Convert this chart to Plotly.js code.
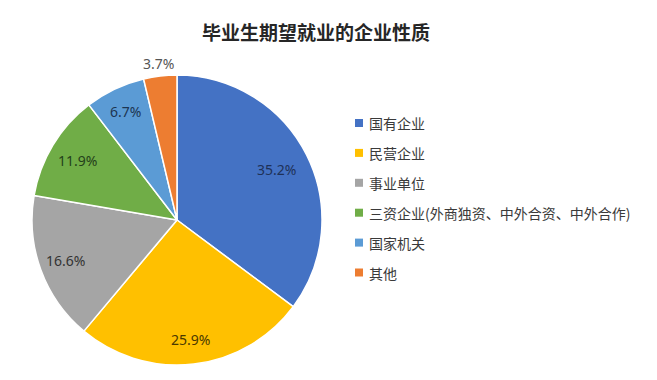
<!DOCTYPE html>
<html>
<head>
<meta charset="utf-8">
<script src="https://cdn.plot.ly/plotly-3.0.1.min.js"></script>
<style>html,body{margin:0;padding:0;background:#fff;}#chart{width:657px;height:380px;}</style>
</head>
<body>
<div id="chart"></div>
<script>
const categories = ['国有企业', '民营企业', '事业单位', '三资企业(外商独资、中外合资、中外合作)', '国家机关', '其他'];
const shares = [35.2, 25.9, 16.6, 11.9, 6.7, 3.7];
const sliceColors = ['#4472C4', '#FFC000', '#A5A5A5', '#70AD47', '#5B9BD5', '#ED7D31'];
const labelColors = ['#1e3158', '#4a3800', '#333333', '#24401a', '#1c3552', '#555555'];
const titleText = '毕业生期望就业的企业性质';

const W = 657, H = 380;
const CJK = '"Noto Sans CJK SC", "Noto Sans", sans-serif';
// pie geometry in pixels (center and radius) -> domain
const CX = 177, CY = 220, R = 145;
// radial placement of each data label, as a fraction of the radius
const labelRadius = [0.77, 0.83, 0.82, 0.80, 0.83, 1.09];

const trace = {
  type: 'pie',
  labels: categories,
  values: shares,
  sort: false,
  direction: 'clockwise',
  rotation: 0,
  marker: { colors: sliceColors, line: { color: '#ffffff', width: 1.5 } },
  textinfo: 'none',
  textposition: 'none',
  domain: { x: [(CX - R) / W, (CX + R) / W], y: [(H - CY - R) / H, (H - CY + R) / H] },
  showlegend: false,
  hoverinfo: 'label+percent'
};

const shapes = [];
const annotations = [];

// data labels at the middle angle of each slice (clockwise from 12 o'clock)
const total = shares.reduce((a, b) => a + b, 0);
let cum = 0;
shares.forEach((v, i) => {
  const theta = (cum + v / 2) / total * 2 * Math.PI;
  cum += v;
  const px = CX + labelRadius[i] * R * Math.sin(theta);
  const py = CY - labelRadius[i] * R * Math.cos(theta);
  annotations.push({
    xref: 'paper', yref: 'paper', x: px / W, y: (H - py) / H,
    xanchor: 'center', yanchor: 'middle', showarrow: false,
    text: v.toFixed(1) + '%',
    font: { family: '"Noto Sans", sans-serif', size: 14, color: labelColors[i] }
  });
});

// legend (squares + labels), one row per category
categories.forEach((c, i) => {
  const yc = 123 + i * 29.9;
  shapes.push({
    type: 'rect', xref: 'paper', yref: 'paper',
    x0: 355 / W, x1: 363 / W, y0: (H - yc - 4) / H, y1: (H - yc + 4) / H,
    fillcolor: sliceColors[i], line: { width: 0 }
  });
  annotations.push({
    xref: 'paper', yref: 'paper', x: 367 / W, y: (H - yc) / H,
    xanchor: 'left', yanchor: 'middle', showarrow: false,
    text: c, font: { family: CJK, size: 14, color: '#3a3a3a' }
  });
});

const layout = {
  width: W, height: H,
  margin: { l: 0, r: 0, t: 0, b: 0 },
  paper_bgcolor: '#ffffff',
  title: {
    text: titleText,
    x: 316 / W, xanchor: 'center', xref: 'paper',
    y: (H - 33) / H, yanchor: 'middle', yref: 'paper',
    font: { family: CJK, size: 19, weight: 'bold', color: '#262626' }
  },
  shapes: shapes,
  annotations: annotations
};

Plotly.newPlot('chart', [trace], layout, { displayModeBar: false, staticPlot: true });
</script>
</body>
</html>
